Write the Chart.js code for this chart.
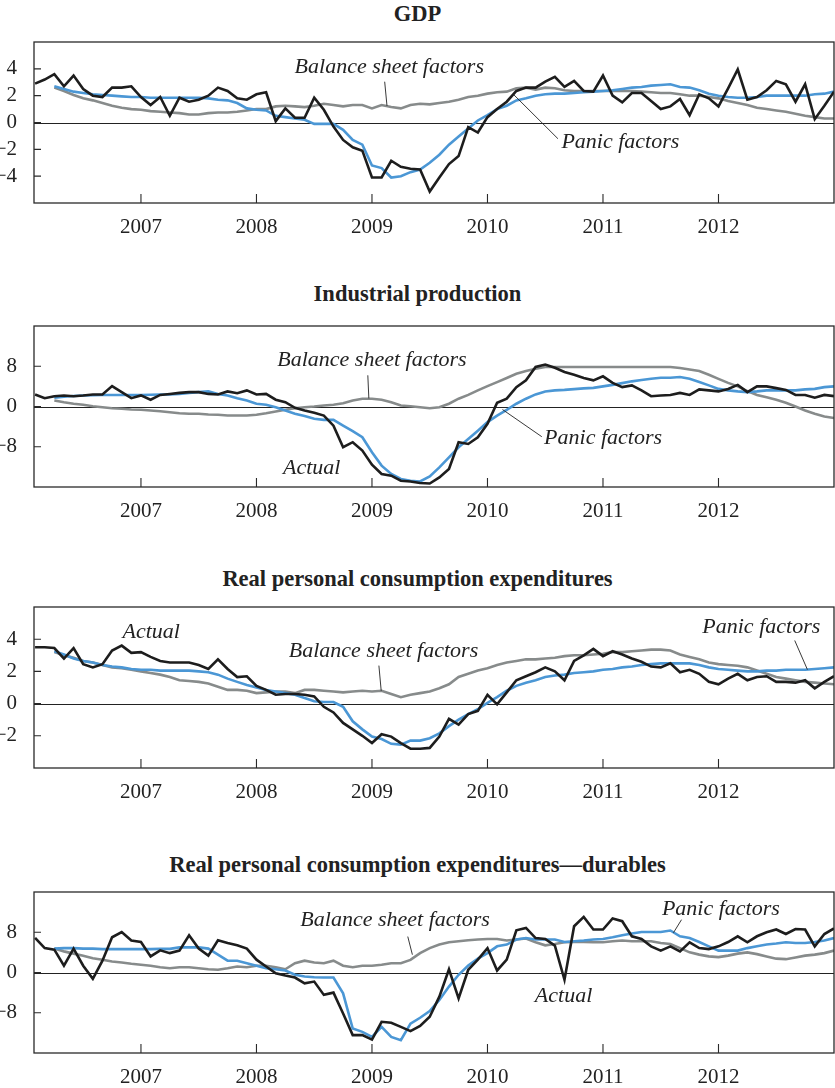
<!DOCTYPE html>
<html lang="en">
<head>
  <meta charset="UTF-8" />
  <title>Actual vs. panic and balance sheet factors</title>
  <script src="https://cdn.jsdelivr.net/npm/chart.js"></script>
  <style>
    body {
      margin: 0;
      width: 835px;
      height: 1088px;
      position: relative;
      overflow: hidden;
      background: #fff;
      font-family: 'Liberation Serif', 'Times New Roman', serif;
    }

    .title {
      position: absolute;
      left: 0;
      width: 835px;
      text-align: center;
      font-weight: bold;
      font-size: 22.5px;
      line-height: 26px;
      color: #222;
    }

    .panel {
      position: absolute;
      left: 0;
    }
  </style>
</head>
<body>

  <div class="title" style="top:1px">GDP</div>
  <div class="panel" style="top:18px"><canvas id="gdpChart" width="835" height="225"></canvas></div>

  <div class="title" style="top:281px">Industrial production</div>
  <div class="panel" style="top:302px"><canvas id="ipChart" width="835" height="225"></canvas></div>

  <div class="title" style="top:566px">Real personal consumption expenditures</div>
  <div class="panel" style="top:583px"><canvas id="pceChart" width="835" height="225"></canvas></div>

  <div class="title" style="top:852px">Real personal consumption expenditures—durables</div>
  <div class="panel" style="top:868px"><canvas id="durChart" width="835" height="225"></canvas></div>

  <script>
    // monthly data, Feb 2006 .. Jan 2013
    const years = [2007, 2008, 2009, 2010, 2011, 2012];

    const gdpActual = [2.9, 3.2, 3.6, 2.7, 3.5, 2.5, 2.0, 1.9, 2.6, 2.6, 2.7,
      1.9, 1.3, 1.9, 0.5, 1.85, 1.55, 1.7, 2.0, 2.6, 2.35, 1.8, 1.7, 2.1,
      2.25, 0.1, 1.05, 0.35, 0.35, 1.85, 0.95, -0.3, -1.3, -1.85, -2.1, -4.1,
      -4.1, -2.85, -3.3, -3.45, -3.5, -5.15, -4.1, -3.1, -2.5, -0.35, -0.75, 0.4,
      1.0, 1.55, 2.35, 2.6, 2.6, 3.05, 3.4, 2.65, 3.1, 2.35, 2.3, 3.5,
      2.0, 1.5, 2.2, 2.2, 1.6, 1.0, 1.2, 1.75, 0.55, 2.1, 1.8, 1.2,
      2.55, 3.95, 1.7, 1.9, 2.4, 3.1, 2.85, 1.55, 2.85, 0.25, 1.25, 2.3];
    const gdpPanic = [null, null, 2.7, 2.5, 2.3, 2.2, 2.1, 2.05, 2.0, 1.95, 1.9,
      1.9, 1.85, 1.85, 1.85, 1.85, 1.85, 1.85, 1.8, 1.7, 1.65, 1.45, 1.05, 0.95,
      0.9, 0.5, 0.4, 0.3, 0.2, -0.1, -0.1, -0.1, -0.55, -1.3, -1.65, -3.2,
      -3.4, -4.1, -4.0, -3.7, -3.5, -3.0, -2.4, -1.65, -1.05, -0.45, 0.15, 0.55,
      1.0, 1.25, 1.65, 1.8, 2.0, 2.1, 2.15, 2.15, 2.2, 2.25, 2.3, 2.35,
      2.4, 2.5, 2.6, 2.65, 2.75, 2.8, 2.85, 2.65, 2.6, 2.4, 2.15, 2.0,
      1.9, 1.85, 1.85, 1.9, 2.0, 2.0, 2.0, 2.0, 2.0, 2.1, 2.15, 2.3];
    const gdpBalance = [null, null, 2.6, 2.35, 2.05, 1.8, 1.65, 1.45, 1.25, 1.1, 1.0,
      0.95, 0.85, 0.8, 0.75, 0.7, 0.6, 0.6, 0.7, 0.75, 0.75, 0.8, 0.9, 1.0,
      1.0, 1.2, 1.25, 1.2, 1.15, 1.25, 1.4, 1.3, 1.2, 1.3, 1.3, 1.05,
      1.3, 1.15, 1.05, 1.3, 1.4, 1.35, 1.45, 1.55, 1.7, 1.9, 2.0, 2.15,
      2.25, 2.3, 2.55, 2.6, 2.45, 2.6, 2.55, 2.4, 2.35, 2.35, 2.35, 2.35,
      2.35, 2.35, 2.35, 2.3, 2.25, 2.2, 2.2, 2.1, 2.0, 2.0, 1.9, 1.8,
      1.6, 1.45, 1.3, 1.1, 1.0, 0.9, 0.8, 0.65, 0.5, 0.4, 0.3, 0.3];

    const ipActual = [2.4, 1.65, 2.05, 2.2, 2.05, 2.2, 2.4, 2.4, 4.05, 2.85, 1.65,
      2.2, 1.35, 2.3, 2.5, 2.7, 2.85, 2.85, 2.5, 2.4, 3.0,
      2.65, 3.2, 2.4, 2.5, 1.35, 0.85, -0.25, -0.8, -1.25, -1.8,
      -3.8, -8.1, -7.1, -8.75, -11.55, -13.4, -13.75, -14.75, -14.9, -15.2,
      -15.3, -14.1, -12.4, -7.1, -7.45, -6.1, -3.45, 0.75, 1.55, 3.85,
      5.2, 7.85, 8.35, 7.7, 6.85, 6.3, 5.65, 5.2, 6.0, 4.7,
      3.85, 4.2, 3.2, 2.05, 2.2, 2.3, 2.7, 2.3, 3.4, 3.2,
      3.0, 3.5, 4.3, 2.85, 4.0, 4.0, 3.65, 3.3, 2.3, 2.3,
      1.75, 2.3, 2.05];
    const ipPanic = [null, null, 1.75, 1.95, 2.1, 2.2, 2.25, 2.3, 2.3, 2.3, 2.3,
      2.3, 2.35, 2.4, 2.4, 2.5, 2.7, 2.85, 3.0, 2.5, 2.2,
      1.65, 1.2, 0.55, 0.35, -0.15, -0.8, -1.45, -1.9, -2.45, -2.65,
      -2.65, -3.8, -4.9, -6.1, -9.1, -11.75, -13.4, -14.4, -14.75, -14.9,
      -13.9, -12.1, -10.1, -8.1, -6.45, -4.8, -3.1, -1.8, -0.65, 0.55,
      1.55, 2.4, 3.0, 3.2, 3.3, 3.45, 3.6, 3.7, 4.0, 4.3,
      4.65, 5.0, 5.25, 5.5, 5.7, 5.7, 5.85, 5.5, 4.85, 4.2,
      3.5, 3.2, 3.0, 2.85, 3.0, 3.2, 3.2, 3.2, 3.2, 3.4,
      3.5, 3.85, 4.0];
    const ipBalance = [null, null, 1.2, 0.85, 0.55, 0.35, 0.05, -0.15, -0.35, -0.45, -0.6,
      -0.65, -0.8, -0.95, -1.15, -1.35, -1.45, -1.45, -1.6, -1.65, -1.8,
      -1.8, -1.8, -1.65, -1.35, -1.0, -0.65, -0.35, -0.15, 0, 0.2,
      0.35, 0.65, 1.2, 1.55, 1.55, 1.35, 0.85, 0.2, 0.05, -0.15,
      -0.35, -0.15, 0.55, 1.55, 2.3, 3.2, 4.05, 4.85, 5.65, 6.5,
      7.05, 7.5, 7.85, 7.85, 7.85, 7.85, 7.85, 7.85, 7.85, 7.85,
      7.85, 7.85, 7.85, 7.85, 7.85, 7.85, 7.65, 7.35, 7.05, 6.3,
      5.5, 4.7, 4.0, 3.05, 2.3, 1.85, 1.35, 0.75, 0, -0.8,
      -1.45, -2.0, -2.3];

    const pceActual = [3.5, 3.5, 3.45, 2.8, 3.45, 2.45, 2.25, 2.45, 3.3, 3.6, 3.15,
      3.2, 2.9, 2.65, 2.55, 2.55, 2.55, 2.4, 2.15, 2.75, 2.15,
      1.65, 1.7, 1.1, 0.85, 0.55, 0.6, 0.6, 0.55, 0.45, -0.2,
      -0.55, -1.2, -1.6, -2.0, -2.45, -1.9, -2.05, -2.45, -2.8, -2.8,
      -2.75, -2.05, -0.95, -1.3, -0.65, -0.45, 0.55, -0.05, 0.7, 1.45,
      1.7, 1.95, 2.25, 2.0, 1.45, 2.65, 3.0, 3.4, 2.95, 3.25,
      3.05, 2.8, 2.6, 2.3, 2.25, 2.5, 1.95, 2.1, 1.85, 1.35,
      1.2, 1.55, 1.85, 1.45, 1.65, 1.7, 1.35, 1.35, 1.3, 1.45,
      0.95, 1.35, 1.7];
    const pcePanic = [null, null, 3.25, 3.05, 2.8, 2.65, 2.55, 2.4, 2.3, 2.25, 2.15,
      2.1, 2.1, 2.05, 2.05, 2.05, 2.05, 2.0, 1.95, 1.8, 1.55,
      1.35, 1.15, 1.0, 0.85, 0.75, 0.65, 0.55, 0.35, 0.15, 0.1,
      0.1, -0.2, -1.1, -1.6, -2.05, -2.2, -2.5, -2.55, -2.3, -2.3,
      -2.15, -1.85, -1.4, -1.0, -0.65, -0.35, 0.05, 0.4, 0.8, 1.1,
      1.3, 1.45, 1.65, 1.75, 1.8, 1.9, 1.95, 2.0, 2.1, 2.15,
      2.25, 2.3, 2.4, 2.45, 2.5, 2.5, 2.5, 2.5, 2.4, 2.25,
      2.15, 2.1, 2.05, 2.0, 2.0, 2.05, 2.05, 2.1, 2.1, 2.1,
      2.15, 2.2, 2.25];
    const pceBalance = [null, null, 3.2, 3.0, 2.85, 2.65, 2.55, 2.4, 2.25, 2.2, 2.1,
      2.0, 1.9, 1.8, 1.65, 1.45, 1.4, 1.35, 1.25, 1.05, 0.85,
      0.85, 0.8, 0.65, 0.7, 0.75, 0.75, 0.65, 0.85, 0.85, 0.8,
      0.75, 0.7, 0.75, 0.8, 0.75, 0.8, 0.6, 0.4, 0.55, 0.65,
      0.75, 0.95, 1.2, 1.65, 1.85, 2.05, 2.2, 2.4, 2.55, 2.65,
      2.75, 2.75, 2.8, 2.85, 2.95, 3.0, 3.0, 3.05, 3.1, 3.2,
      3.2, 3.25, 3.3, 3.35, 3.35, 3.3, 3.05, 2.9, 2.75, 2.55,
      2.45, 2.4, 2.35, 2.25, 2.05, 1.85, 1.65, 1.55, 1.45, 1.35,
      1.3, 1.25, 1.2];

    const durActual = [6.9, 4.85, 4.55, 1.35, 4.75, 1.35, -1.25, 2.35, 7.0, 8.05, 6.35,
      6.05, 3.2, 4.4, 3.85, 4.35, 7.4, 4.75, 3.35, 6.4, 5.85,
      5.4, 4.75, 2.55, 1.2, -0.15, -0.6, -1.0, -2.15, -1.8, -4.45,
      -4.0, -8.15, -12.45, -12.45, -13.35, -9.8, -10.0, -10.8, -11.65, -10.6,
      -8.8, -4.8, 0.65, -5.15, 0.55, 2.55, 4.85, 0.4, 2.55, 8.4,
      8.85, 6.85, 6.65, 5.35, -1.45, 9.2, 11.05, 8.55, 8.55, 10.75,
      10.2, 7.2, 6.65, 5.2, 4.35, 5.2, 4.2, 6.0, 4.85, 4.65,
      5.2, 6.05, 7.2, 6.0, 7.2, 8.0, 8.55, 7.65, 8.65, 8.55,
      5.2, 7.65, 8.75];
    const durPanic = [null, null, 4.75, 4.85, 4.85, 4.75, 4.75, 4.65, 4.65, 4.65, 4.65,
      4.65, 4.65, 4.7, 4.7, 5.0, 5.0, 5.0, 4.75, 3.55, 2.35,
      2.35, 1.85, 1.35, 0.85, 0.65, 0.4, -0.45, -0.8, -0.95, -1.0,
      -1.0, -4.15, -11.15, -11.8, -12.8, -10.8, -12.8, -13.45, -10.15, -9.0,
      -7.65, -5.45, -2.8, -0.45, 1.4, 2.75, 3.85, 5.2, 5.55, 6.55,
      6.85, 6.55, 6.55, 6.55, 6.05, 6.2, 6.35, 6.55, 6.65, 7.0,
      7.4, 7.75, 8.05, 8.05, 8.05, 8.35, 7.2, 6.85, 6.05, 5.2,
      4.35, 4.35, 4.35, 4.85, 5.2, 5.55, 5.75, 6.0, 5.85, 5.85,
      6.05, 6.35, 6.85];
    const durBalance = [null, null, 4.75, 4.2, 3.75, 3.35, 2.85, 2.55, 2.2, 2.0, 1.75,
      1.55, 1.35, 1.05, 0.85, 1.05, 1.05, 0.85, 0.65, 0.55, 0.85,
      1.2, 1.05, 1.35, 1.35, 1.05, 0.65, 1.85, 2.35, 2.0, 1.85,
      2.35, 1.35, 1.05, 1.35, 1.35, 1.55, 1.85, 1.85, 2.5, 3.85,
      4.85, 5.55, 6.0, 6.2, 6.4, 6.55, 6.65, 6.65, 6.35, 6.55,
      6.75, 6.0, 5.4, 5.65, 6.0, 6.05, 6.05, 6.0, 6.0, 6.2,
      6.35, 6.2, 6.2, 6.2, 5.85, 5.65, 4.85, 4.0, 3.55, 3.2,
      3.05, 3.35, 3.75, 4.0, 3.65, 3.2, 2.75, 2.65, 3.0, 3.35,
      3.55, 3.85, 4.35];

    const black = '#1d1d1d';
    const blue = '#4b97d5';
    const gray = '#878b8b';
    const textColor = '#222';

    // month i -> fractional year (first point is Feb 2006)
    function toPoints(values) {
      return values.map((v, i) => ({ x: 2006 + (i + 1) / 12, y: v }));
    }

    function fmt(v) {
      return v < 0 ? '\u2212' + Math.abs(v) : String(v);
    }

    // zero line, frame and inward tick marks
    const framePlugin = {
      id: 'frame',
      beforeDatasetsDraw(chart) {
        const { ctx, chartArea: a, scales: { y } } = chart;
        const y0 = Math.round(y.getPixelForValue(0)) + 0.5;
        ctx.save();
        ctx.strokeStyle = '#222';
        ctx.lineWidth = 1.2;
        ctx.beginPath();
        ctx.moveTo(a.left, y0);
        ctx.lineTo(a.right, y0);
        ctx.stroke();
        ctx.restore();
      },
      afterDatasetsDraw(chart) {
        const { ctx, chartArea: a, scales: { x, y } } = chart;
        ctx.save();
        ctx.strokeStyle = '#2a2a2a';
        ctx.lineWidth = 1.3;
        ctx.strokeRect(a.left, a.top, a.right - a.left, a.bottom - a.top);
        ctx.lineWidth = 1.1;
        ctx.beginPath();
        x.ticks.forEach(t => {
          const px = x.getPixelForValue(t.value);
          ctx.moveTo(px, a.bottom);
          ctx.lineTo(px, a.bottom - 9);
        });
        y.ticks.forEach(t => {
          const py = y.getPixelForValue(t.value);
          ctx.moveTo(a.left, py);
          ctx.lineTo(a.left + 7, py);
        });
        ctx.stroke();
        ctx.restore();
      }
    };

    // italic labels with leader lines, placed in data units
    const notesPlugin = {
      id: 'notes',
      afterDatasetsDraw(chart, args, opts) {
        const { ctx, scales: { x, y } } = chart;
        ctx.save();
        ctx.font = 'italic 22px "Liberation Serif", serif';
        ctx.fillStyle = textColor;
        ctx.strokeStyle = textColor;
        ctx.lineWidth = 0.9;
        ctx.textAlign = 'left';
        ctx.textBaseline = 'middle';
        (opts.items || []).forEach(n => {
          ctx.fillText(n.text, x.getPixelForValue(n.x), y.getPixelForValue(n.y));
          if (n.line) {
            ctx.beginPath();
            ctx.moveTo(x.getPixelForValue(n.line[0]), y.getPixelForValue(n.line[1]));
            ctx.lineTo(x.getPixelForValue(n.line[2]), y.getPixelForValue(n.line[3]));
            ctx.stroke();
          }
        });
        ctx.restore();
      }
    };

    function makePanel(id, yMin, yMax, yTicks, actual, panic, balance, notes) {
      return new Chart(document.getElementById(id), {
        type: 'line',
        data: {
          datasets: [
            { label: 'Actual', data: toPoints(actual), borderColor: black, borderWidth: 2.6, order: 1 },
            { label: 'Panic factors', data: toPoints(panic), borderColor: blue, borderWidth: 2.6, order: 2 },
            { label: 'Balance sheet factors', data: toPoints(balance), borderColor: gray, borderWidth: 2.6, order: 3 }
          ]
        },
        options: {
          responsive: false,
          animation: false,
          layout: { padding: { top: 24, right: 1, left: 0, bottom: 0 } },
          elements: {
            point: { radius: 0 },
            line: { tension: 0, borderJoinStyle: 'miter', fill: false }
          },
          plugins: {
            legend: { display: false },
            tooltip: { enabled: false },
            notes: { items: notes }
          },
          scales: {
            x: {
              type: 'linear',
              min: 2006.074,
              max: 2013,
              afterBuildTicks: s => { s.ticks = years.map(v => ({ value: v })); },
              afterFit: s => { s.height = 40; },
              grid: { display: false },
              border: { display: false },
              ticks: {
                padding: 4,
                color: textColor,
                font: { family: 'Liberation Serif', size: 21 },
                callback: v => String(v)
              }
            },
            y: {
              min: yMin,
              max: yMax,
              afterBuildTicks: s => { s.ticks = yTicks.map(v => ({ value: v })); },
              afterFit: s => { s.width = 34; },
              grid: { display: false },
              border: { display: false },
              ticks: {
                padding: 9,
                color: textColor,
                font: { family: 'Liberation Serif', size: 21 },
                callback: v => fmt(v)
              }
            }
          }
        },
        plugins: [framePlugin, notesPlugin]
      });
    }

    makePanel('gdpChart', -6, 6, [-4, -2, 0, 2, 4], gdpActual, gdpPanic, gdpBalance, [
      { text: 'Balance sheet factors', x: 2008.33, y: 4.15, line: [2009.11, 3.04, 2009.13, 1.24] },
      { text: 'Panic factors', x: 2010.64, y: -1.48, line: [2010.61, -1.21, 2010.23, 2.05] }
    ]);

    makePanel('ipChart', -16, 16, [-8, 0, 8], ipActual, ipPanic, ipBalance, [
      { text: 'Balance sheet factors', x: 2008.18, y: 9.2, line: [2008.964, 6.2, 2008.973, 1.6] },
      { text: 'Panic factors', x: 2010.49, y: -6.4, line: [2010.47, -6.0, 2010.13, -0.6] },
      { text: 'Actual', x: 2008.23, y: -12.2 }
    ]);

    makePanel('pceChart', -4, 6, [-2, 0, 2, 4], pceActual, pcePanic, pceBalance, [
      { text: 'Actual', x: 2006.84, y: 4.44 },
      { text: 'Balance sheet factors', x: 2008.28, y: 3.23, line: [2009.06, 2.36, 2009.08, 0.79] },
      { text: 'Panic factors', x: 2011.86, y: 4.73, line: [2012.66, 3.92, 2012.77, 2.11] }
    ]);

    makePanel('durChart', -16, 16, [-8, 0, 8], durActual, durPanic, durBalance, [
      { text: 'Balance sheet factors', x: 2008.38, y: 10.4, line: [2009.31, 7.14, 2009.35, 3.54] },
      { text: 'Panic factors', x: 2011.51, y: 12.5, line: [2011.68, 10.5, 2011.61, 7.9] },
      { text: 'Actual', x: 2010.41, y: -4.8 }
    ]);
  </script>
</body>
</html>
